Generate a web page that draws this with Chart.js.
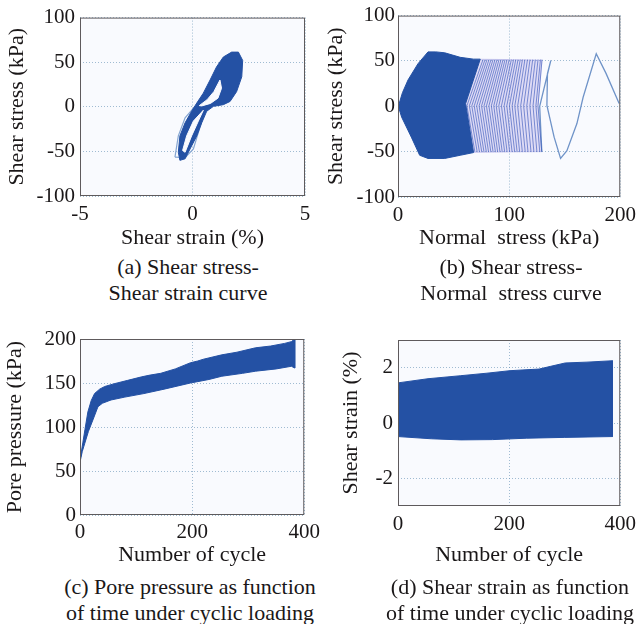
<!DOCTYPE html>
<html>
<head>
<meta charset="utf-8">
<script src="https://cdn.jsdelivr.net/npm/chart.js@4.4.1/dist/chart.umd.min.js"></script>
<style>
  body { margin: 0; background: #fff; width: 642px; height: 624px; overflow: hidden; position: relative;
         font-family: "Liberation Serif", "Times New Roman", serif; color: #1a1718; }
  canvas { position: absolute; }
  .caption { position: absolute; width: 300px; text-align: center; font-size: 22px; line-height: 26px; white-space: pre; }
</style>
</head>
<body>
<canvas id="chartA" width="321" height="251" style="left:0;top:0"></canvas>
<canvas id="chartB" width="321" height="251" style="left:321px;top:0"></canvas>
<canvas id="chartC" width="325" height="248" style="left:0;top:320px"></canvas>
<canvas id="chartD" width="321" height="248" style="left:321px;top:320px"></canvas>

<div class="caption" style="left:38px;top:254px">(a) Shear stress-<br>Shear strain curve</div>
<div class="caption" style="left:361px;top:254px">(b) Shear stress-<br>Normal  stress curve</div>
<div class="caption" style="left:40px;top:574px">(c) Pore pressure as function<br>of time under cyclic loading</div>
<div class="caption" style="left:360px;top:574px">(d) Shear strain as function<br>of time under cyclic loading</div>

<script>
const BLUE = '#2451a4';
const PLOT_BG = '#f9fafe';
const TEXT = '#1a1718';

// (a) hysteresis loops: outer outline and the two open pockets inside
const strainOuter = [-0.56, -0.63, -0.56, -0.33, -0.04, 0.19, 0.48, 0.78, 1.07, 1.37, 1.74, 2.04, 2.23, 2.19, 1.96, 1.67, 1.37, 0.93, 0.63, 0.41, 0.19, -0.11, -0.33, -0.56];
const stressOuter = [-60, -51, -32.6, -18, -5, 4.2, 15.3, 30, 44.8, 55.8, 61.3, 61.3, 52, 33.7, 17, 6, 2.4, 0.5, -5, -18, -32.6, -47.3, -58.3, -60];
const strainPocketHi = [0.3, 0.65, 0.95, 1.22, 1.29, 1.13, 0.8, 0.41, 0.3];
const stressPocketHi = [1.3, 8, 17, 30, 20.8, 9.7, 3.8, 1, 1.3];
const strainPocketLo = [-0.44, -0.26, 0.04, 0.48, 0.26, -0.04, -0.33, -0.44];
const stressPocketLo = [-49, -32.6, -16, -3.9, -16, -32.6, -51, -49];
const strainFaintL = [-0.78, -0.63, -0.33, 0.11];
const stressFaintL = [-56.5, -32.6, -12.4, 0.5];
const strainFaintR = [0.48, 0.04, -0.33, -0.78];
const stressFaintR = [-10.5, -47.3, -57, -56.5];

// (b) stress path: dense early cycles, then separate cycle stripes, then the last cycle
const normalDense = [0.3, 4, 9, 18, 27, 34, 42, 56, 68, 74, 60.8, 68, 56, 42, 27, 19.5, 12, 3.3, 0.3];
const shearDense = [0, 15, 29, 47, 60, 60, 59, 54, 52, 52, 3, -51, -54, -57.5, -57.5, -54, -34, -12, 0];
const normalBand = [74, 100, 129.6, 126, 129.4, 100, 68, 60.8, 74];
const shearBand = [52, 51.5, 51, 1, -50, -50.5, -51, 3, 52];
const stripeTop = [76.5, 78.3, 80.1, 81.9, 83.7, 85.5, 87.3, 89.1, 90.9, 92.7, 94.5, 96.3, 98.1, 100, 102, 104, 106, 108, 110, 112, 114.2, 116.5, 118.8, 121.2, 123.6, 126, 128.2, 129.6];
const stripeMid = [62, 64.2, 66.4, 68.6, 70.8, 73, 75.2, 77.4, 79.6, 81.8, 84, 86.2, 88.4, 90.7, 93.1, 95.5, 97.9, 100.3, 102.7, 105.1, 107.7, 110.4, 113.1, 115.9, 118.7, 121.5, 124.1, 126];
const stripeBot = [69.2, 71.3, 73.3, 75.4, 77.4, 79.5, 81.5, 83.6, 85.6, 87.7, 89.7, 91.8, 93.8, 96, 98.2, 100.5, 102.7, 105, 107.2, 109.5, 111.9, 114.5, 117, 119.7, 122.3, 125, 127.6, 129.4];
const normalTail = [129.4, 127.5, 137.5, 134.5, 134, 140.5, 146.3, 152, 161, 166.6, 178.4, 187.3, 199];
const shearTail = [-50, 0, 50.5, 36, 1, -34, -57.5, -49, -19, 10, 58, 36, 3];

// (c) pore pressure band (upper / lower envelope)
const cycleUpperC = [0, 5, 8.8, 14, 20, 26, 35, 44, 60, 85, 110, 125, 144, 170, 197, 210, 220, 253, 280, 313, 340, 365, 377, 383];
const poreUpperC = [62, 82, 97, 117, 130, 138, 143, 146, 149, 153, 157, 159, 161, 166, 173, 175, 177, 182, 185, 190, 192, 195, 197, 200];
const cycleLowerC = [0, 4, 8.3, 15, 23, 32, 40, 55.4, 80, 114, 150, 197, 230, 253, 290, 313, 350, 377, 383];
const poreLowerC = [60, 72, 81, 95, 108, 123, 127, 130.7, 134, 138, 143, 150, 154, 157.7, 161, 163.4, 166, 169, 167];

// (d) shear strain band (upper / lower envelope)
const cycleUpperD = [0, 54, 113, 160, 201, 254, 275, 301, 340, 386];
const strainUpperD = [1.45, 1.6, 1.71, 1.8, 1.89, 1.95, 2.05, 2.17, 2.2, 2.25];
const cycleLowerD = [0, 60, 113, 170, 231, 300, 386];
const strainLowerD = [-0.49, -0.57, -0.61, -0.6, -0.55, -0.52, -0.49];
const strainTicks = [-2, 0, 2];

function pts(xs, ys) {
  return xs.map((x, i) => ({ x: x, y: ys[i] }));
}

// closed band = upper edge forward, lower edge back
function band(xu, yu, xl, yl) {
  return pts(xu, yu).concat(pts(xl, yl).reverse());
}

function shape(data, color, order) {
  return { data: data, showLine: true, fill: 'shape', backgroundColor: color, borderColor: color,
           borderWidth: 1, pointRadius: 0, order: order };
}

function line(data, color, width, order) {
  return { data: data, showLine: true, fill: false, borderColor: color, borderWidth: width,
           pointRadius: 0, order: order };
}

// plot background and box round the chart area
const plotFrame = {
  id: 'plotFrame',
  beforeDraw(chart) {
    const a = chart.chartArea, ctx = chart.ctx;
    ctx.save();
    ctx.fillStyle = PLOT_BG;
    ctx.fillRect(a.left, a.top, a.right - a.left, a.bottom - a.top);
    ctx.restore();
  },
  afterDraw(chart) {
    const a = chart.chartArea, ctx = chart.ctx;
    ctx.save();
    ctx.strokeStyle = '#5e5a5c';
    ctx.lineWidth = 1;
    ctx.strokeRect(a.left + 0.5, a.top + 0.5, a.right - a.left - 1, a.bottom - a.top - 1);
    ctx.restore();
  }
};

function axis(o) {
  const ax = {
    type: 'linear', min: o.min, max: o.max,
    ticks: { stepSize: o.step, color: TEXT, padding: o.tickPad, font: { size: 21 } },
    grid: { color: 'rgba(100,145,180,0.6)', lineWidth: 1, drawTicks: false },
    border: { display: false, dash: [1, 2] },
    title: { display: true, text: o.title, color: TEXT, font: { size: 22 }, padding: o.titlePad },
    afterFit(scale) {
      if (o.width) scale.width = o.width;
      if (o.height) scale.height = o.height;
    }
  };
  if (o.ticksAt) {
    ax.afterBuildTicks = scale => { scale.ticks = o.ticksAt.map(v => ({ value: v })); };
  }
  return ax;
}

function makeChart(id, datasets, x, y, padding) {
  return new Chart(document.getElementById(id), {
    type: 'scatter',
    data: { datasets: datasets },
    options: {
      responsive: false, animation: false, devicePixelRatio: 1,
      layout: { padding: padding },
      plugins: { legend: { display: false }, tooltip: { enabled: false } },
      scales: { x: x, y: y }
    },
    plugins: [plotFrame]
  });
}

Chart.defaults.font.family = '"Liberation Serif", "Times New Roman", serif';

// (a)
makeChart('chartA', [
  shape(pts(strainPocketHi, stressPocketHi), PLOT_BG, 0),
  shape(pts(strainPocketLo, stressPocketLo), PLOT_BG, 0),
  shape(pts(strainOuter, stressOuter), BLUE, 1),
  line(pts(strainFaintL, stressFaintL), '#86a6d2', 1.2, 2),
  line(pts(strainFaintR, stressFaintR), '#86a6d2', 1.2, 2)
],
  axis({ min: -5, max: 5, step: 5, title: 'Shear strain (%)', tickPad: 6, titlePad: { bottom: 0 }, height: 55 }),
  axis({ min: -100, max: 100, step: 50, title: 'Shear stress (kPa)', tickPad: 5, titlePad: { top: 4 }, width: 80 }),
  { top: 15, right: 16, bottom: 0, left: 0 });

// (b)
const stripes = stripeTop.map((t, i) =>
  line([{ x: t, y: 51.5 }, { x: stripeMid[i], y: 0.5 }, { x: stripeBot[i], y: -50.5 }], 'rgba(55,85,185,0.62)', 1, 2));
makeChart('chartB', [
  shape(pts(normalDense, shearDense), BLUE, 1),
  ...stripes,
  line(pts(normalTail, shearTail), '#6f93c8', 1.3, 2),
  shape(pts(normalBand, shearBand), 'rgba(160,150,225,0.3)', 3)
],
  axis({ min: 0, max: 200, step: 100, title: 'Normal  stress (kPa)', tickPad: 6, titlePad: { bottom: 0 }, height: 54 }),
  axis({ min: -100, max: 100, step: 50, title: 'Shear stress (kPa)', tickPad: 3, titlePad: { top: 2 }, width: 77 }),
  { top: 15, right: 18, bottom: 0, left: 0 });

// (c)
makeChart('chartC', [
  shape(band(cycleUpperC, poreUpperC, cycleLowerC, poreLowerC), BLUE, 1)
],
  axis({ min: 0, max: 400, step: 200, title: 'Number of cycle', tickPad: 5, titlePad: { bottom: 0 }, height: 53 }),
  axis({ min: 0, max: 200, step: 50, title: 'Pore pressure (kPa)', tickPad: 4, titlePad: { top: 2 }, width: 80 }),
  { top: 19, right: 19, bottom: 0, left: 0 });

// (d)
makeChart('chartD', [
  shape(band(cycleUpperD, strainUpperD, cycleLowerD, strainLowerD), BLUE, 1)
],
  axis({ min: 0, max: 400, step: 200, title: 'Number of cycle', tickPad: 6, titlePad: { bottom: 0 }, height: 62 }),
  axis({ min: -3, max: 3, step: 2, title: 'Shear strain (%)', tickPad: 5, titlePad: { top: 17 }, width: 77, ticksAt: strainTicks }),
  { top: 20, right: 18, bottom: 0, left: 0 });
</script>
</body>
</html>
